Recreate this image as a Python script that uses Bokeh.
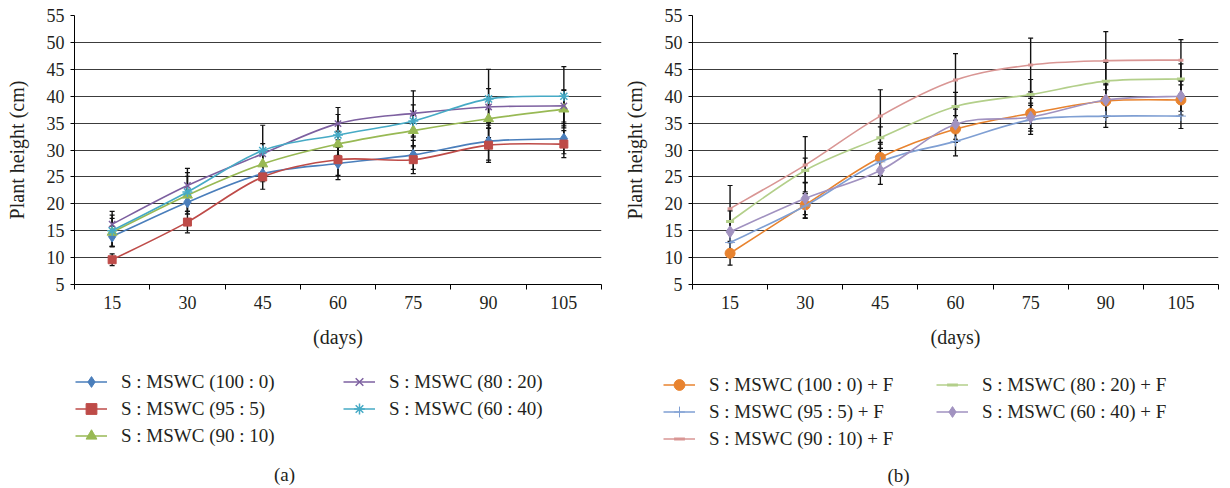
import numpy as np
from bokeh.plotting import figure
from bokeh.layouts import row, column
from bokeh.models import (FixedTicker, Whisker, TeeHead, ColumnDataSource, Legend,
                          LegendItem, Label, Range1d)
from bokeh.embed import file_html
from bokeh.resources import INLINE

# ---------------- data ----------------
days = [15, 30, 45, 60, 75, 90, 105]
day_labels = ["15", "30", "45", "60", "75", "90", "105"]
y_ticks = [5, 10, 15, 20, 25, 30, 35, 40, 45, 50, 55]

# panel (a)
a_names = ["S : MSWC (100 : 0)", "S : MSWC (95 : 5)", "S : MSWC (90 : 10)",
           "S : MSWC (80 : 20)", "S : MSWC (60 : 40)"]
a_100_0 = [13.9, 20.3, 25.6, 27.5, 29.1, 31.6, 32.1]
a_95_5 = [9.6, 16.6, 25.0, 28.2, 28.2, 30.9, 31.1]
a_90_10 = [14.7, 21.6, 27.4, 31.1, 33.6, 35.8, 37.6]
a_80_20 = [16.2, 23.4, 29.3, 34.9, 36.8, 38.0, 38.2]
a_60_40 = [15.0, 22.2, 29.9, 32.8, 35.4, 39.5, 40.0]
a_100_0_err = [1.9, 2.2, 1.5, 3.0, 2.7, 3.5, 2.8]
a_95_5_err = [1.1, 2.0, 2.3, 2.9, 2.6, 3.2, 2.5]
a_90_10_err = [2.6, 3.5, 2.0, 2.4, 3.0, 3.5, 3.5]
a_80_20_err = [2.4, 3.2, 1.9, 3.0, 4.2, 3.4, 3.0]
a_60_40_err = [2.9, 3.6, 4.7, 3.8, 3.0, 5.5, 5.5]

# panel (b)
b_names = ["S : MSWC (100 : 0) + F", "S : MSWC (95 : 5) + F", "S : MSWC (90 : 10) + F",
           "S : MSWC (80 : 20) + F", "S : MSWC (60 : 40) + F"]
b_100_0 = [10.8, 19.8, 28.6, 33.9, 36.8, 39.1, 39.3]
b_95_5 = [12.8, 19.6, 27.8, 31.6, 35.6, 36.3, 36.3]
b_90_10 = [19.1, 27.2, 36.3, 43.0, 45.8, 46.6, 46.7]
b_80_20 = [16.7, 26.2, 32.3, 38.1, 40.3, 42.8, 43.2]
b_60_40 = [14.8, 21.0, 26.2, 34.8, 36.1, 39.3, 40.0]
b_100_0_err = [2.2, 2.4, 2.5, 2.5, 2.8, 3.0, 2.8]
b_95_5_err = [2.0, 2.3, 2.5, 2.7, 2.7, 2.1, 2.3]
b_90_10_err = [4.3, 5.3, 4.9, 4.9, 5.0, 5.4, 3.8]
b_80_20_err = [2.0, 2.3, 2.0, 2.6, 2.8, 3.5, 2.8]
b_60_40_err = [2.0, 3.0, 2.6, 2.8, 2.6, 3.0, 2.8]

TEXT = "#231f20"
FONT = "Liberation Serif"
PANEL_W = 615
PLOT_H = 355
LEG_H = 133
LEG_LEFT = 74
LEG_RIGHT = 12


def smooth_segments(xs, ys):
    x = np.asarray(xs, float)
    y = np.asarray(ys, float)
    n = len(x)
    xp = np.concatenate([[x[0]], x, [x[-1]]])
    yp = np.concatenate([[y[0]], y, [y[-1]]])
    return dict(
        x0=x[:-1], y0=y[:-1], x1=x[1:], y1=y[1:],
        cx0=x[:-1] + (xp[2:n + 1] - xp[0:n - 1]) / 6.0,
        cy0=y[:-1] + (yp[2:n + 1] - yp[0:n - 1]) / 6.0,
        cx1=x[1:] - (xp[3:n + 2] - xp[1:n]) / 6.0,
        cy1=y[1:] - (yp[3:n + 2] - yp[1:n]) / 6.0,
    )


# legend strip spanning both panels (frame 74 .. 1218)
lf = figure(width=2 * PANEL_W, height=LEG_H, x_range=Range1d(0, 1), y_range=Range1d(0, 1),
            x_axis_type=None, y_axis_type=None, output_backend="svg",
            toolbar_location=None, min_border_left=LEG_LEFT, min_border_right=LEG_RIGHT,
            min_border_top=0, min_border_bottom=0)
lf.outline_line_color = None
lf.xgrid.visible = False
lf.ygrid.visible = False


def make_panel(series, left, right, top, leg_pos, caption, cap_pos):
    p = figure(width=PANEL_W, height=PLOT_H, x_range=Range1d(7.5, 112.5),
               y_range=Range1d(5, 55), output_backend="svg", toolbar_location=None,
               min_border_left=left, min_border_right=right,
               min_border_top=top, min_border_bottom=PLOT_H - 271 - top)
    p.outline_line_color = None
    p.xgrid.visible = False
    p.ygrid.ticker = FixedTicker(ticks=y_ticks)
    p.ygrid.grid_line_color = "#3c3c3c"
    p.ygrid.grid_line_width = 1

    p.xaxis.ticker = FixedTicker(ticks=days, minor_ticks=[7.5 + 15 * k for k in range(8)])
    p.xaxis.major_label_overrides = {d: l for d, l in zip(days, day_labels)}
    p.xaxis.major_tick_out = 0
    p.xaxis.major_tick_in = 0
    p.xaxis.minor_tick_out = 5
    p.xaxis.minor_tick_in = 0
    p.xaxis.minor_tick_line_color = "black"
    p.xaxis.major_label_standoff = 6
    p.xaxis.axis_label = "(days)"
    p.xaxis.axis_label_standoff = 14

    p.yaxis.ticker = FixedTicker(ticks=y_ticks)
    p.yaxis.major_tick_out = 4
    p.yaxis.major_tick_in = 0
    p.yaxis.minor_tick_line_color = None
    p.yaxis.major_label_standoff = 6
    p.yaxis.axis_label = "Plant height (cm)"
    p.yaxis.axis_label_standoff = 16

    for ax in (p.xaxis[0], p.yaxis[0]):
        ax.axis_line_color = "black"
        ax.axis_line_width = 1
        ax.major_tick_line_color = "black"
        ax.major_label_text_font = FONT
        ax.major_label_text_font_size = "18px"
        ax.major_label_text_color = TEXT
        ax.axis_label_text_font = FONT
        ax.axis_label_text_font_size = "20px"
        ax.axis_label_text_font_style = "normal"
        ax.axis_label_text_color = TEXT

    items = []
    for (name, vals, errs, color, marker, msize, mlw) in series:
        src = ColumnDataSource(dict(x=days, y=vals,
                                    lo=[v - e for v, e in zip(vals, errs)],
                                    hi=[v + e for v, e in zip(vals, errs)]))
        w = Whisker(source=src, base="x", upper="hi", lower="lo", dimension="height",
                    line_color="#111111", line_width=1.4, level="underlay",
                    upper_head=TeeHead(size=5, line_color="#111111", line_width=1.2),
                    lower_head=TeeHead(size=5, line_color="#111111", line_width=1.2))
        p.add_layout(w)
        p.bezier(source=ColumnDataSource(smooth_segments(days, vals)),
                 x0="x0", y0="y0", x1="x1", y1="y1", cx0="cx0", cy0="cy0",
                 cx1="cx1", cy1="cy1", line_color=color, line_width=1.6)
        p.scatter(x="x", y="y", source=src, marker=marker, size=msize,
                  fill_color=color, line_color=color, line_width=mlw)
        # legend proxies (kept outside the visible range of the legend strip)
        lr = lf.line(x=[-5, -4], y=[-5, -4], line_color=color, line_width=1.6)
        sr = lf.scatter(x=[-5], y=[-5], marker=marker, size=msize,
                        fill_color=color, line_color=color, line_width=mlw)
        items.append(LegendItem(label=name, renderers=[lr, sr]))

    for cols, loc in zip((items[:3], items[3:]), leg_pos):
        leg = Legend(items=cols, location=loc, orientation="vertical",
                     glyph_width=32, glyph_height=27, label_height=27,
                     label_standoff=14, spacing=0, padding=0, margin=0,
                     border_line_color=None, background_fill_alpha=0,
                     label_text_font=FONT, label_text_font_size="19px",
                     label_text_color=TEXT, label_text_baseline="middle")
        lf.add_layout(leg)

    lf.add_layout(Label(x=cap_pos[0], y=cap_pos[1], x_units="screen", y_units="screen",
                        text=caption, text_align="center", text_baseline="middle",
                        text_font=FONT, text_font_size="19px", text_color=TEXT))
    return p


series_a = [
    (a_names[0], a_100_0, a_100_0_err, "#4a7ebb", "diamond", 11, 1),
    (a_names[1], a_95_5, a_95_5_err, "#be4b48", "square", 8, 1),
    (a_names[2], a_90_10, a_90_10_err, "#98b954", "triangle", 10, 1),
    (a_names[3], a_80_20, a_80_20_err, "#7d60a0", "x", 9, 1.5),
    (a_names[4], a_60_40, a_60_40_err, "#46aac5", "asterisk", 10, 1.5),
]
series_b = [
    (b_names[0], b_100_0, b_100_0_err, "#e8832f", "circle", 10, 1),
    (b_names[1], b_95_5, b_95_5_err, "#7f9fd3", "cross", 10, 1),
    (b_names[2], b_90_10, b_90_10_err, "#d99694", "dash", 5, 3),
    (b_names[3], b_80_20, b_80_20_err, "#b3cf8a", "dash", 8, 3),
    (b_names[4], b_60_40, b_60_40_err, "#a192c0", "diamond", 12, 1),
]

# legend/caption positions are in px relative to the strip's frame (left 74, bottom 488)
p1 = make_panel(series_a, 74, 14, 15, [(75 - LEG_LEFT, 39), (343 - LEG_LEFT, 66)],
                "(a)", (284 - LEG_LEFT, 14))
p2 = make_panel(series_b, 77, 12, 13, [(663 - LEG_LEFT, 36), (936 - LEG_LEFT, 63)],
                "(b)", (898 - LEG_LEFT, 13))

layout = column(row(p1, p2, spacing=0), lf, spacing=0)
open("out.html", "w").write(file_html(layout, INLINE))
